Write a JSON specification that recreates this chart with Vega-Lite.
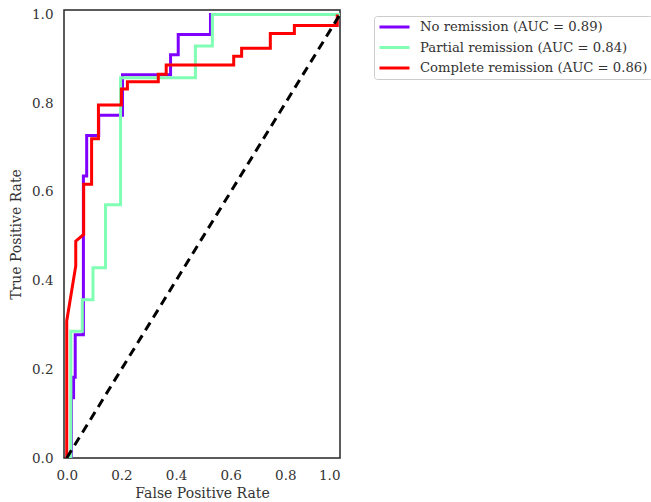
{
  "$schema": "https://vega.github.io/schema/vega-lite/v6.json",
  "autosize": {"type": "none"},
  "padding": {"left": 64, "top": 10, "right": 311, "bottom": 44},
  "width": 276,
  "height": 448,
  "background": "white",
  "config": {
    "view": {"stroke": "#262626", "strokeWidth": 1.5},
    "font": "DejaVu Serif",
    "axis": {
      "grid": false,
      "domain": false,
      "ticks": false,
      "tickSize": 0,
      "labelFont": "DejaVu Serif",
      "labelFontSize": 13.5,
      "labelColor": "#333333",
      "titleFont": "DejaVu Serif",
      "titleFontSize": 14,
      "titleFontWeight": "normal",
      "titleColor": "#333333"
    }
  },
  "datasets": {
    "none": [
      {"series": "No remission (AUC = 0.89)", "i": 0, "fpr": 0, "tpr": 0},
      {"series": "No remission (AUC = 0.89)", "i": 1, "fpr": 0.017, "tpr": 0},
      {"series": "No remission (AUC = 0.89)", "i": 2, "fpr": 0.017, "tpr": 0.136},
      {"series": "No remission (AUC = 0.89)", "i": 3, "fpr": 0.025, "tpr": 0.136},
      {"series": "No remission (AUC = 0.89)", "i": 4, "fpr": 0.025, "tpr": 0.182},
      {"series": "No remission (AUC = 0.89)", "i": 5, "fpr": 0.031, "tpr": 0.182},
      {"series": "No remission (AUC = 0.89)", "i": 6, "fpr": 0.031, "tpr": 0.278},
      {"series": "No remission (AUC = 0.89)", "i": 7, "fpr": 0.061, "tpr": 0.278},
      {"series": "No remission (AUC = 0.89)", "i": 8, "fpr": 0.061, "tpr": 0.636},
      {"series": "No remission (AUC = 0.89)", "i": 9, "fpr": 0.073, "tpr": 0.636},
      {"series": "No remission (AUC = 0.89)", "i": 10, "fpr": 0.073, "tpr": 0.727},
      {"series": "No remission (AUC = 0.89)", "i": 11, "fpr": 0.117, "tpr": 0.727},
      {"series": "No remission (AUC = 0.89)", "i": 12, "fpr": 0.117, "tpr": 0.773},
      {"series": "No remission (AUC = 0.89)", "i": 13, "fpr": 0.204, "tpr": 0.773},
      {"series": "No remission (AUC = 0.89)", "i": 14, "fpr": 0.204, "tpr": 0.864},
      {"series": "No remission (AUC = 0.89)", "i": 15, "fpr": 0.38, "tpr": 0.864},
      {"series": "No remission (AUC = 0.89)", "i": 16, "fpr": 0.38, "tpr": 0.909},
      {"series": "No remission (AUC = 0.89)", "i": 17, "fpr": 0.408, "tpr": 0.909},
      {"series": "No remission (AUC = 0.89)", "i": 18, "fpr": 0.408, "tpr": 0.955},
      {"series": "No remission (AUC = 0.89)", "i": 19, "fpr": 0.526, "tpr": 0.955},
      {"series": "No remission (AUC = 0.89)", "i": 20, "fpr": 0.526, "tpr": 1},
      {"series": "No remission (AUC = 0.89)", "i": 21, "fpr": 1, "tpr": 1}
    ],
    "partial": [
      {"series": "Partial remission (AUC = 0.84)", "i": 0, "fpr": 0, "tpr": 0},
      {"series": "Partial remission (AUC = 0.84)", "i": 1, "fpr": 0.015, "tpr": 0},
      {"series": "Partial remission (AUC = 0.84)", "i": 2, "fpr": 0.015, "tpr": 0.286},
      {"series": "Partial remission (AUC = 0.84)", "i": 3, "fpr": 0.057, "tpr": 0.286},
      {"series": "Partial remission (AUC = 0.84)", "i": 4, "fpr": 0.057, "tpr": 0.357},
      {"series": "Partial remission (AUC = 0.84)", "i": 5, "fpr": 0.096, "tpr": 0.357},
      {"series": "Partial remission (AUC = 0.84)", "i": 6, "fpr": 0.096, "tpr": 0.429},
      {"series": "Partial remission (AUC = 0.84)", "i": 7, "fpr": 0.142, "tpr": 0.429},
      {"series": "Partial remission (AUC = 0.84)", "i": 8, "fpr": 0.142, "tpr": 0.571},
      {"series": "Partial remission (AUC = 0.84)", "i": 9, "fpr": 0.197, "tpr": 0.571},
      {"series": "Partial remission (AUC = 0.84)", "i": 10, "fpr": 0.197, "tpr": 0.857},
      {"series": "Partial remission (AUC = 0.84)", "i": 11, "fpr": 0.471, "tpr": 0.857},
      {"series": "Partial remission (AUC = 0.84)", "i": 12, "fpr": 0.471, "tpr": 0.929},
      {"series": "Partial remission (AUC = 0.84)", "i": 13, "fpr": 0.533, "tpr": 0.929},
      {"series": "Partial remission (AUC = 0.84)", "i": 14, "fpr": 0.533, "tpr": 1},
      {"series": "Partial remission (AUC = 0.84)", "i": 15, "fpr": 1, "tpr": 1}
    ],
    "complete": [
      {"series": "Complete remission (AUC = 0.86)", "i": 0, "fpr": 0, "tpr": 0},
      {"series": "Complete remission (AUC = 0.86)", "i": 1, "fpr": 0, "tpr": 0.309},
      {"series": "Complete remission (AUC = 0.86)", "i": 2, "fpr": 0.033, "tpr": 0.433},
      {"series": "Complete remission (AUC = 0.86)", "i": 3, "fpr": 0.033, "tpr": 0.489},
      {"series": "Complete remission (AUC = 0.86)", "i": 4, "fpr": 0.062, "tpr": 0.504},
      {"series": "Complete remission (AUC = 0.86)", "i": 5, "fpr": 0.062, "tpr": 0.617},
      {"series": "Complete remission (AUC = 0.86)", "i": 6, "fpr": 0.091, "tpr": 0.617},
      {"series": "Complete remission (AUC = 0.86)", "i": 7, "fpr": 0.091, "tpr": 0.72},
      {"series": "Complete remission (AUC = 0.86)", "i": 8, "fpr": 0.116, "tpr": 0.72},
      {"series": "Complete remission (AUC = 0.86)", "i": 9, "fpr": 0.116, "tpr": 0.796},
      {"series": "Complete remission (AUC = 0.86)", "i": 10, "fpr": 0.2, "tpr": 0.796},
      {"series": "Complete remission (AUC = 0.86)", "i": 11, "fpr": 0.2, "tpr": 0.832},
      {"series": "Complete remission (AUC = 0.86)", "i": 12, "fpr": 0.222, "tpr": 0.832},
      {"series": "Complete remission (AUC = 0.86)", "i": 13, "fpr": 0.222, "tpr": 0.848},
      {"series": "Complete remission (AUC = 0.86)", "i": 14, "fpr": 0.335, "tpr": 0.848},
      {"series": "Complete remission (AUC = 0.86)", "i": 15, "fpr": 0.335, "tpr": 0.865},
      {"series": "Complete remission (AUC = 0.86)", "i": 16, "fpr": 0.364, "tpr": 0.865},
      {"series": "Complete remission (AUC = 0.86)", "i": 17, "fpr": 0.364, "tpr": 0.886},
      {"series": "Complete remission (AUC = 0.86)", "i": 18, "fpr": 0.611, "tpr": 0.886},
      {"series": "Complete remission (AUC = 0.86)", "i": 19, "fpr": 0.611, "tpr": 0.906},
      {"series": "Complete remission (AUC = 0.86)", "i": 20, "fpr": 0.64, "tpr": 0.906},
      {"series": "Complete remission (AUC = 0.86)", "i": 21, "fpr": 0.64, "tpr": 0.924},
      {"series": "Complete remission (AUC = 0.86)", "i": 22, "fpr": 0.745, "tpr": 0.924},
      {"series": "Complete remission (AUC = 0.86)", "i": 23, "fpr": 0.745, "tpr": 0.957},
      {"series": "Complete remission (AUC = 0.86)", "i": 24, "fpr": 0.833, "tpr": 0.957},
      {"series": "Complete remission (AUC = 0.86)", "i": 25, "fpr": 0.833, "tpr": 0.975},
      {"series": "Complete remission (AUC = 0.86)", "i": 26, "fpr": 0.99, "tpr": 0.975},
      {"series": "Complete remission (AUC = 0.86)", "i": 27, "fpr": 0.99, "tpr": 1}
    ],
    "diag": [
      {"i": 0, "fpr": 0, "tpr": 0},
      {"i": 1, "fpr": 1, "tpr": 1}
    ]
  },
  "encoding": {
    "x": {
      "field": "fpr",
      "type": "quantitative",
      "scale": {"domain": [-0.01, 1.0], "nice": false, "zero": false},
      "axis": {
        "title": "False Positive Rate",
        "values": [0, 0.2, 0.4, 0.6, 0.8, 1],
        "format": ".1f",
        "labelPadding": 10,
        "titlePadding": 5
      }
    },
    "y": {
      "field": "tpr",
      "type": "quantitative",
      "scale": {"domain": [0, 1.01], "nice": false, "zero": false},
      "axis": {
        "title": "True Positive Rate",
        "values": [0, 0.2, 0.4, 0.6, 0.8, 1],
        "format": ".1f",
        "labelPadding": 11,
        "titlePadding": 8
      }
    },
    "order": {"field": "i", "type": "quantitative"}
  },
  "layer": [
    {
      "data": {"name": "none"},
      "mark": {"type": "line", "strokeWidth": 3, "clip": true},
      "encoding": {
        "color": {
          "field": "series",
          "type": "nominal",
          "scale": {
            "domain": ["No remission (AUC = 0.89)", "Partial remission (AUC = 0.84)", "Complete remission (AUC = 0.86)"],
            "range": ["#8000ff", "#80ffb4", "#ff0000"]
          },
          "legend": {
            "title": null,
            "orient": "none",
            "legendX": 310,
            "legendY": 6,
            "symbolType": "stroke",
            "symbolSize": 900,
            "symbolStrokeWidth": 3,
            "clipHeight": 14,
            "rowPadding": 6.5,
            "labelOffset": 9,
            "labelFont": "DejaVu Serif",
            "labelFontSize": 13.2,
            "labelColor": "#333333",
            "labelLimit": 400,
            "padding": 4,
            "strokeColor": "#cccccc",
            "fillColor": "white",
            "cornerRadius": 3
          }
        }
      }
    },
    {
      "data": {"name": "partial"},
      "mark": {"type": "line", "strokeWidth": 3, "clip": true},
      "encoding": {"color": {"field": "series", "type": "nominal"}}
    },
    {
      "data": {"name": "complete"},
      "mark": {"type": "line", "strokeWidth": 3, "clip": true},
      "encoding": {"color": {"field": "series", "type": "nominal"}}
    },
    {
      "data": {"name": "diag"},
      "mark": {"type": "line", "strokeWidth": 3, "color": "black", "strokeDash": [9, 6], "clip": true},
      "encoding": {}
    }
  ]
}
